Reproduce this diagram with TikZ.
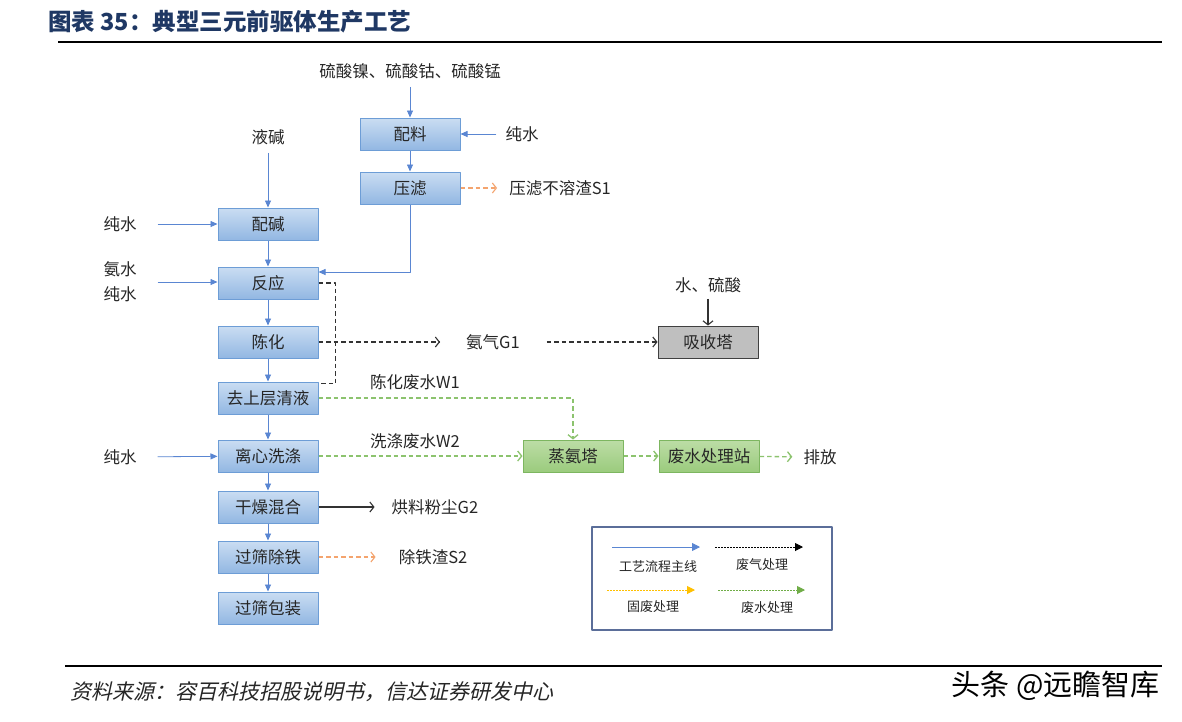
\documentclass[tikz,border=0pt]{standalone}
\usepackage{fontspec}
\setmainfont{Noto Sans CJK SC}
\newfontfamily\srcfont[FakeSlant=0.22]{Noto Sans CJK SC}
\usetikzlibrary{arrows.meta}
\definecolor{Ink}{HTML}{262626}
\definecolor{TitleInk}{HTML}{1F3864}
\definecolor{Flow}{HTML}{5A86D2}
\definecolor{ProcTop}{HTML}{CADDF2}
\definecolor{ProcBot}{HTML}{92B7E2}
\definecolor{ProcBorder}{HTML}{6D9DD6}
\definecolor{WaterTop}{HTML}{BCDDA6}
\definecolor{WaterBot}{HTML}{9BCB7D}
\definecolor{WaterBorder}{HTML}{7DB660}
\definecolor{Water}{HTML}{8CC36E}
\definecolor{Solid}{HTML}{F4A46E}
\definecolor{Gas}{HTML}{333333}
\definecolor{Tower}{HTML}{BFBFBF}
\definecolor{LegendBorder}{HTML}{5B6E99}
\definecolor{SolidLeg}{HTML}{FFC000}
\definecolor{WaterLeg}{HTML}{70AD47}
\tikzset{
  proc/.style={draw=ProcBorder,line width=1pt,top color=ProcTop,bottom color=ProcBot,minimum width=100pt,minimum height=32pt,inner sep=0pt,text=Ink,font=\fontsize{16.5}{16.5}\selectfont},
  watbox/.style={proc,draw=WaterBorder,top color=WaterTop,bottom color=WaterBot},
  towerbox/.style={proc,draw=black!75,top color=Tower,bottom color=Tower},
  lab/.style={text=Ink,inner sep=1pt,font=\fontsize{16.5}{16.5}\selectfont},
  leglab/.style={text=Ink,inner sep=1pt,font=\fontsize{13}{13}\selectfont},
  flow/.style={draw=Flow,line width=0.8pt,-{Triangle[length=7pt,width=6pt]}},
  gas/.style={draw=Gas,line width=1.1pt,dash pattern=on 4.5pt off 3pt,-{Straight Barb[length=4pt,width=10pt]}},
  dust/.style={draw=Gas,line width=1.1pt,-{Straight Barb[length=4pt,width=10pt]}},
  solidw/.style={gas,draw=Solid},
  wastew/.style={gas,draw=Water,line width=1.3pt},
  legline/.style={line width=0.9pt,dash pattern=on 1.5pt off 1.5pt,-{Triangle[length=8pt,width=8pt]}}
}

\begin{document}
\begin{tikzpicture}[x=1pt,y=-1pt,line join=round]
  \useasboundingbox (0,0) rectangle (1182,721);
  \fill[white] (0,0) rectangle (1182,721);

  % title
  \node[anchor=west,inner sep=0pt,text=TitleInk,font=\bfseries\fontsize{23.5}{23.5}\selectfont] (title) at (48,22) {图表 35：典型三元前驱体生产工艺};
  \draw[line width=2.2pt] (58,42) -- (1162,42);

  % main line
  \node[proc] (peiliao) at (410,134) {配料};
  \node[proc] (yalv) at (410,188) {压滤};
  \node[proc] (peijian) at (268,224) {配碱};
  \node[proc] (fanying) at (268,283) {反应};
  \node[proc] (chenhua) at (268,342) {陈化};
  \node[proc] (qingye) at (268,398) {去上层清液};
  \node[proc] (xidi) at (268,456) {离心洗涤};
  \node[proc] (ganzao) at (268,507) {干燥混合};
  \node[proc] (chutie) at (268,557) {过筛除铁};
  \node[proc] (baozhuang) at (268,608) {过筛包装};
  \node[towerbox] (xishou) at (708,342) {吸收塔};
  \node[watbox] (zhengan) at (573,456) {蒸氨塔};
  \node[watbox] (wushui) at (709,456) {废水处理站};

  % inputs and outputs
  \node[lab] (yan) at (410,71) {硫酸镍、硫酸钴、硫酸锰};
  \node[lab] (water1) at (522,134) {纯水};
  \node[lab] (zha1) at (560,188) {压滤不溶渣S1};
  \node[lab] (jian) at (268,137) {液碱};
  \node[lab] (water2) at (120,224) {纯水};
  \node[lab,align=center,font=\fontsize{16.5}{25}\selectfont] (anshui) at (120,282) {氨水\\纯水};
  \node[lab] (nh3) at (493,342) {氨气G1};
  \node[lab] (acid) at (708,285) {水、硫酸};
  \node[lab] (w1) at (415,382) {陈化废水W1};
  \node[lab] (w2) at (415,441) {洗涤废水W2};
  \node[lab] (water3) at (120,457) {纯水};
  \node[lab] (paifang) at (820,457) {排放};
  \node[lab] (g2) at (435,507) {烘料粉尘G2};
  \node[lab] (zha2) at (433,557) {除铁渣S2};

  \draw[flow,shorten <=7pt] (yan) -- (peiliao);
  \draw[flow] (peiliao) -- (yalv);
  \draw[flow,shorten <=8pt] (water1) -- (peiliao);
  \draw[flow] (yalv.south) |- ([yshift=11pt]fanying.east);
  \draw[flow,shorten <=7pt] (jian) -- (peijian);
  \draw[flow,shorten <=20pt] (water2) -- (peijian);
  \draw[flow,shorten <=20pt] (anshui.east) -- (anshui.east -| fanying.west);
  \draw[flow,shorten <=20pt] (water3) -- (xidi);
  \foreach \a/\b in {peijian/fanying,fanying/chenhua,chenhua/qingye,qingye/xidi,xidi/ganzao,ganzao/chutie,chutie/baozhuang}
    \draw[flow] (\a) -- (\b);

  % gas
  \draw[gas,-] (fanying.east) -- ++(17,0) |- ([yshift=-2pt]qingye.north east);
  \draw[gas,shorten >=25pt] (chenhua) -- (nh3);
  \draw[gas,shorten <=26pt] (nh3) -- (xishou);
  \draw[dust,shorten <=5pt] (acid) -- (xishou);
  \draw[dust,shorten >=16pt] (ganzao) -- (g2);

  % solid waste
  \draw[solidw,shorten >=11pt] (yalv) -- (zha1);
  \draw[solidw,shorten >=22pt] (chutie) -- (zha2);

  % waste water
  \draw[wastew] (qingye.east) -| (zhengan.north);
  \draw[wastew] (xidi) -- (zhengan);
  \draw[wastew] (zhengan) -- (wushui);
  \draw[wastew,shorten >=10pt] (wushui) -- (paifang);

  % legend
  \node[draw=LegendBorder,line width=1.5pt,minimum width=240pt,minimum height=103pt,inner sep=0pt] (legend) at (712,578.5) {};
  \draw[flow,-{Triangle[length=8pt,width=8pt]}] (612,547) -- (700,547);
  \draw[legline,draw=black] (715,547) -- (803,547);
  \draw[legline,draw=SolidLeg] (607,590) -- (695,590);
  \draw[legline,draw=WaterLeg] (718,590) -- (805,590);
  \node[leglab] (leg1) at (658,567) {工艺流程主线};
  \node[leglab] (leg2) at (762,565) {废气处理};
  \node[leglab] (leg3) at (653,607) {固废处理};
  \node[leglab] (leg4) at (767,608) {废水处理};

  % source
  \draw[line width=2pt] (65,666) -- (1162,666);
  \node[anchor=west,inner sep=0pt,text=Ink,font=\srcfont\fontsize{21}{21}\selectfont] (src) at (70,692) {资料来源：容百科技招股说明书，信达证券研发中心};
  \node[anchor=east,inner sep=0pt,text=black,font=\fontsize{29}{29}\selectfont] (mark) at (1160,686) {头条 @远瞻智库};
\end{tikzpicture}
\end{document}
